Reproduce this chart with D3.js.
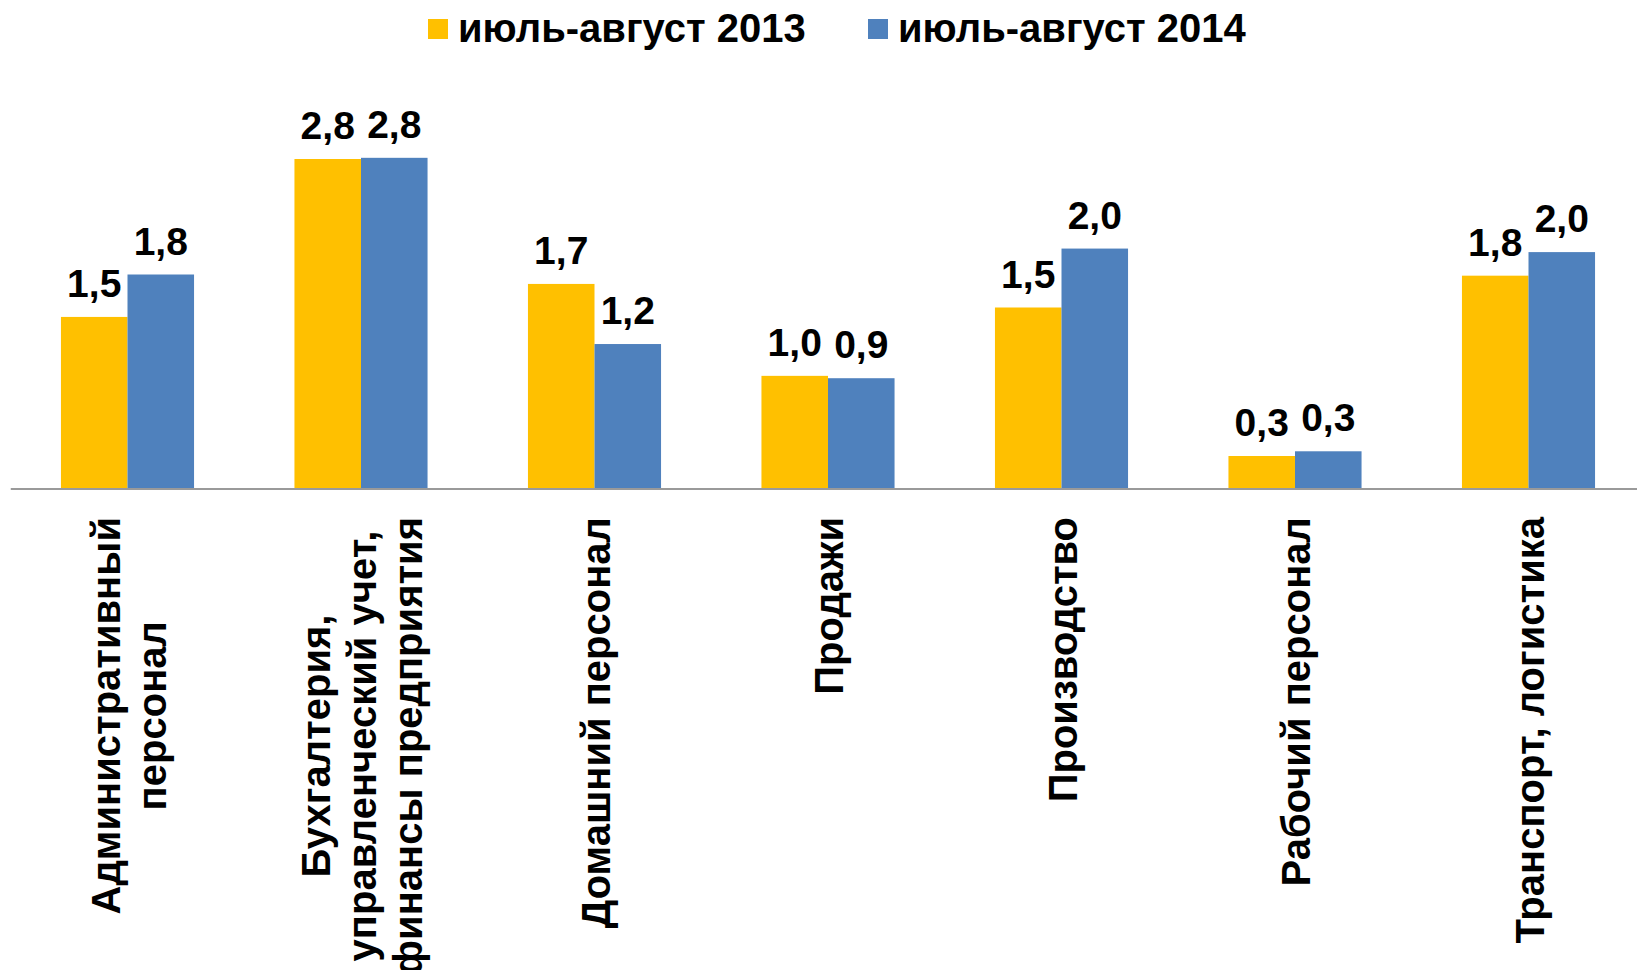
<!DOCTYPE html>
<html>
<head>
<meta charset="utf-8">
<script src="https://cdn.jsdelivr.net/npm/d3@7"></script>
<style>
  body { margin: 0; background: #fff; }
  svg { display: block; font-family: "Liberation Sans", Arial, sans-serif; font-weight: bold; }
</style>
</head>
<body>
<div id="vis"></div>
<script>
const categories = [
    ["Административный", "персонал"],
    ["Бухгалтерия,", "управленческий учет,", "финансы предприятия"],
    ["Домашний персонал"],
    ["Продажи"],
    ["Производство"],
    ["Рабочий персонал"],
    ["Транспорт, логистика"]
];
const seriesNames = ["июль-август 2013", "июль-август 2014"];
const values2013 = [1.46, 2.80, 1.74, 0.96, 1.54, 0.28, 1.81];
const values2014 = [1.82, 2.81, 1.23, 0.94, 2.04, 0.32, 2.01];
const colors = ["#FFC000", "#4F81BD"];

const width = 1637, height = 970;
const axisY = 489;

const svg = d3.select("#vis")
    .append("svg")
    .attr("width", width)
    .attr("height", height);

const keys = categories.map((c, i) => i);

const x0 = d3.scaleBand()
    .domain(keys)
    .range([10.75, 10.75 + 7 * 233.5])
    .paddingInner(0.43)
    .paddingOuter(0.215);

const x1 = d3.scaleBand()
    .domain([0, 1])
    .range([0, x0.bandwidth()]);

const y = d3.scaleLinear()
    .domain([0, 2.8])
    .range([axisY, 159]);

const fmt = (v) => d3.format(".1f")(v).replace(".", ",");

const rows = keys.map((i) => [values2013[i], values2014[i]]);

const group = svg.selectAll(".grp")
    .data(rows)
    .enter()
    .append("g")
    .attr("class", "grp")
    .attr("transform", (d, i) => "translate(" + x0(i) + ",0)");

group.selectAll("rect")
    .data((d) => d)
    .enter()
    .append("rect")
    .attr("x", (d, j) => x1(j))
    .attr("y", (d) => y(d))
    .attr("width", x1.bandwidth())
    .attr("height", (d) => axisY - y(d))
    .attr("fill", (d, j) => colors[j]);

group.selectAll("text.val")
    .data((d) => d)
    .enter()
    .append("text")
    .attr("class", "val")
    .attr("x", (d, j) => x1(j) + x1.bandwidth() / 2)
    .attr("y", (d) => y(d) - 20)
    .attr("text-anchor", "middle")
    .attr("font-size", 39)
    .attr("fill", "#000")
    .text(fmt);

// axis line
svg.append("line")
    .attr("x1", x0.range()[0])
    .attr("x2", width)
    .attr("y1", axisY)
    .attr("y2", axisY)
    .attr("stroke", "#9a9a9a")
    .attr("stroke-width", 2);

// rotated category labels, centred block, top at y=517
const lineH = 46;
categories.forEach((lines, i) => {
    const cx = x0(i) + x0.bandwidth() / 2;
    const g = svg.append("g");
    const texts = lines.map((t, k) => g.append("text")
        .attr("x", 0)
        .attr("y", 15 + (k - (lines.length - 1) / 2) * lineH)
        .attr("text-anchor", "middle")
        .attr("font-size", 40)
        .attr("fill", "#000")
        .text(t));
    const maxLen = d3.max(texts, (t) => t.node().getComputedTextLength());
    g.attr("transform", "translate(" + cx + "," + (517 + maxLen / 2) + ") rotate(-90)");
});

// legend
const legendX = [428, 868];
seriesNames.forEach((name, j) => {
    svg.append("rect")
        .attr("x", legendX[j])
        .attr("y", 19)
        .attr("width", 20)
        .attr("height", 20)
        .attr("fill", colors[j]);
    svg.append("text")
        .attr("x", legendX[j] + 30)
        .attr("y", 42)
        .attr("font-size", 40)
        .attr("fill", "#000")
        .text(name);
});
</script>
</body>
</html>
